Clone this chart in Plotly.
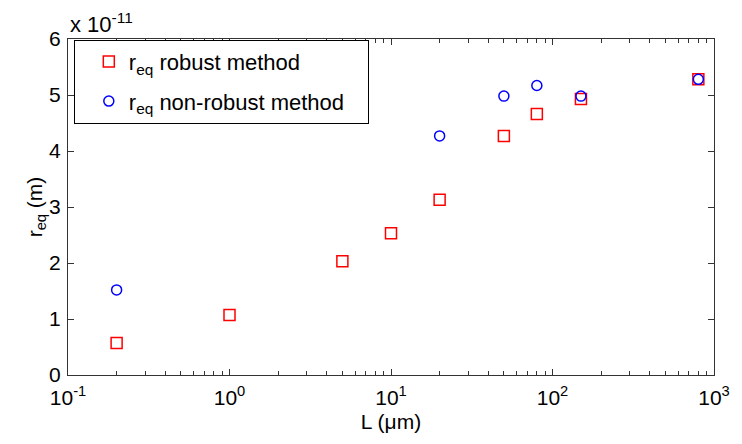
import plotly.graph_objects as go

# Data (r_eq in units of 1e-11 m, L in micrometres)
L_robust = [0.2, 1, 5, 10, 20, 50, 80, 150, 800]
r_robust = [0.57, 1.07, 2.03, 2.53, 3.13, 4.27, 4.66, 4.93, 5.28]
L_nonrobust = [0.2, 20, 50, 80, 150, 800]
r_nonrobust = [1.52, 4.27, 4.98, 5.17, 4.98, 5.28]

x_tickvals = [0.1, 1, 10, 100, 1000]
x_ticktext = ["10<sup>-1</sup>", "10<sup>0</sup>", "10<sup>1</sup>", "10<sup>2</sup>", "10<sup>3</sup>"]
y_tickvals = [0, 1, 2, 3, 4, 5, 6]

FONT = "Liberation Sans, Arial, sans-serif"
AX = "#333333"
PAD = "\u00a0\u00a0\u00a0"

fig = go.Figure()
fig.add_trace(go.Scatter(
    x=L_robust, y=r_robust, mode="markers",
    name="r<sub>eq</sub> robust method", legendgroup="a",
    marker=dict(symbol="square-open", size=11, color="#ff0000", line=dict(width=1.5)),
))
fig.add_trace(go.Scatter(
    x=L_nonrobust, y=r_nonrobust, mode="markers",
    name="r<sub>eq</sub> non-robust method" + PAD, legendgroup="b",
    marker=dict(symbol="circle-open", size=10, color="#0000ff", line=dict(width=1.5)),
))

fig.update_layout(
    width=742, height=444,
    margin=dict(l=68, r=18, t=39, b=69),
    paper_bgcolor="white", plot_bgcolor="white",
    font=dict(family=FONT, size=20, color="black"),
    showlegend=True,
    legend=dict(
        x=0.009, y=0.998, xanchor="left", yanchor="top",
        bordercolor="black", borderwidth=1, bgcolor="white",
        font=dict(size=22, family=FONT),
        itemsizing="trace", tracegroupgap=8,
        indentation=14,
    ),
    xaxis=dict(
        type="log", range=[-1, 3],
        tickvals=x_tickvals, ticktext=x_ticktext,
        ticks="inside", ticklen=6, tickcolor=AX, tickwidth=1,
        showline=True, linecolor=AX, linewidth=1, mirror="ticks",
        showgrid=False, zeroline=False,
        minor=dict(ticks="inside", ticklen=4, tickcolor=AX, dtick="D1", showgrid=False),
        title=dict(text="L (μm)", font=dict(size=21), standoff=6),
        tickfont=dict(size=21), ticklabelstandoff=4,
    ),
    yaxis=dict(
        range=[0, 6], tickvals=y_tickvals,
        ticks="inside", ticklen=6, tickcolor=AX, tickwidth=1,
        showline=True, linecolor=AX, linewidth=1, mirror="ticks",
        showgrid=False, zeroline=False,
        title=dict(text="r<sub>eq</sub> (m)", font=dict(size=21), standoff=0),
        tickfont=dict(size=21), ticklabelstandoff=2,
    ),
)

fig.add_annotation(
    text="x 10<sup>-11</sup>", xref="paper", yref="paper",
    x=0.0, y=1.0, xanchor="left", yanchor="bottom",
    showarrow=False, font=dict(size=22, family=FONT), yshift=0,
)

fig.write_html("out.html")
